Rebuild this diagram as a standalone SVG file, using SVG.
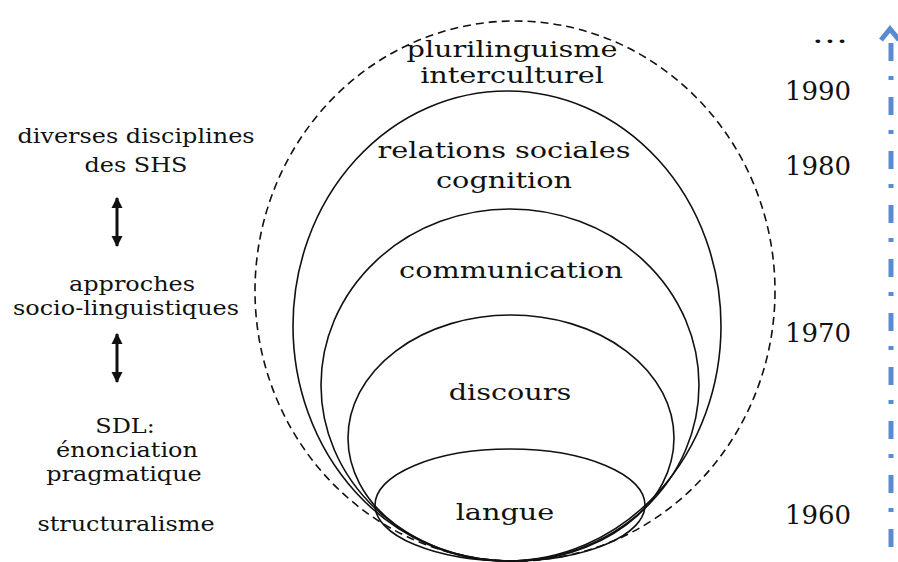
<svg xmlns="http://www.w3.org/2000/svg" width="898" height="562" viewBox="0 0 898 562">
<defs>
<style>
.ell{fill:none;stroke:#111;stroke-width:1.6}
.dash{stroke-dasharray:8 5}
.lbl{font-size:23px;fill:#111;text-anchor:middle}
.side{font-size:21px;fill:#111;text-anchor:middle}
.yr{font-size:26px;fill:#111;text-anchor:middle}
.dbl{stroke:#111;stroke-width:3;fill:none}
.time{stroke:#5a8bd2;stroke-width:5;fill:none}
</style>
<marker id="ah" viewBox="0 0 10 10" refX="9" refY="5" markerUnits="userSpaceOnUse" markerWidth="11" markerHeight="15" orient="auto-start-reverse">
<path d="M0,0 L10,5 L0,10 Z" fill="#111"/>
</marker>
</defs>
<rect width="898" height="562" fill="#fff"/>

<g font-family="'DejaVu Serif', 'Liberation Serif', serif">
<g id="plurilinguisme">
<ellipse class="ell dash" cx="515" cy="291" rx="260" ry="270"/>
<text class="lbl" transform="translate(512,57) scale(1.25,1)">plurilinguisme</text>
<text class="lbl" transform="translate(512,83) scale(1.25,1)">interculturel</text>
</g>
<g id="relations">
<ellipse class="ell" cx="507" cy="326" rx="214" ry="235"/>
<text class="lbl" transform="translate(504,158) scale(1.25,1)">relations sociales</text>
<text class="lbl" transform="translate(504,188) scale(1.25,1)">cognition</text>
</g>
<g id="communication">
<ellipse class="ell" cx="510" cy="385" rx="189" ry="176"/>
<text class="lbl" transform="translate(511,278) scale(1.25,1)">communication</text>
</g>
<g id="discours">
<ellipse class="ell" cx="511" cy="438" rx="163" ry="123"/>
<text class="lbl" transform="translate(510,400) scale(1.25,1)">discours</text>
</g>
<g id="langue">
<ellipse class="ell" cx="510" cy="505" rx="135" ry="56"/>
<text class="lbl" transform="translate(505,520) scale(1.25,1)">langue</text>
</g>

<g id="shs">
<text class="side" transform="translate(136,143) scale(1.14,1)">diverses disciplines</text>
<text class="side" transform="translate(136,172) scale(1.14,1)">des SHS</text>
</g>
<g id="socio">
<text class="side" transform="translate(132,291) scale(1.14,1)">approches</text>
<text class="side" transform="translate(126,315) scale(1.14,1)">socio-linguistiques</text>
</g>
<g id="sdl">
<text class="side" transform="translate(125,433) scale(1.14,1)">SDL:</text>
<text class="side" transform="translate(127,457) scale(1.14,1)">énonciation</text>
<text class="side" transform="translate(124,481) scale(1.14,1)">pragmatique</text>
</g>
<g id="structuralisme">
<text class="side" transform="translate(126,531) scale(1.14,1)">structuralisme</text>
</g>

<g id="years">
<text class="yr" transform="translate(830,43) scale(1.4,1)">…</text>
<text class="yr" x="818" y="100">1990</text>
<text class="yr" x="818" y="175">1980</text>
<text class="yr" x="818" y="342">1970</text>
<text class="yr" x="818" y="524">1960</text>
</g>
</g>

<g id="connectors">
<line class="dbl" x1="117" y1="198" x2="117" y2="246" marker-start="url(#ah)" marker-end="url(#ah)"/>
<line class="dbl" x1="117" y1="334" x2="117" y2="382" marker-start="url(#ah)" marker-end="url(#ah)"/>
<line class="time" x1="891" y1="43" x2="891" y2="548" stroke-dasharray="18 15 4 17"/>
<polyline class="time" points="881,40 890,29 899,40"/>
</g>
</svg>
